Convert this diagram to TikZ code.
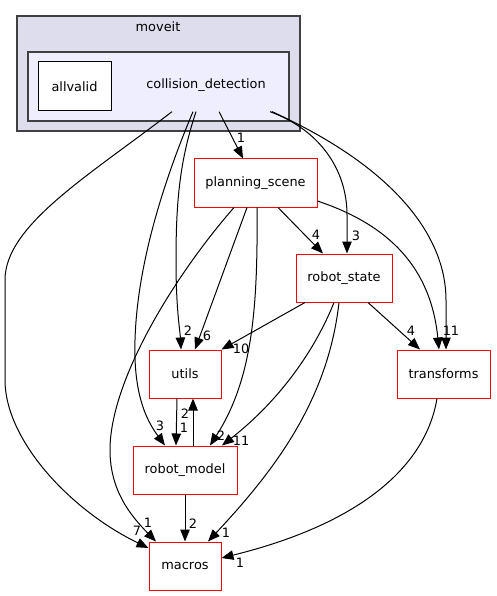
\documentclass[tikz,border=0pt]{standalone}
\usepackage{fontspec}
\setmainfont{DejaVu Sans}
\usetikzlibrary{arrows.meta}
\definecolor{clout}{HTML}{DDDDEE}
\definecolor{clin}{HTML}{EEEEFF}
\definecolor{clborder}{HTML}{404040}
\begin{document}
\begin{tikzpicture}[x=1pt,y=-1pt, font=\fontsize{12.9}{15}\selectfont,
  dirbox/.style={draw=red, fill=white, line width=1pt, minimum height=48pt, inner sep=0pt},
  edge/.style={-{Triangle[length=12pt,width=9.5pt]}, line width=1pt, black},
  lbl/.style={inner sep=0pt}]
\useasboundingbox (0,0) rectangle (496,596);

% clusters
\node[draw=clborder, fill=clout, line width=1.3pt, minimum width=283pt, minimum height=115pt, inner sep=0pt] (moveit) at (158.5,73.5) {};
\node[lbl] (moveitlbl) at (158,27) {moveit};
\node[draw=clborder, fill=clin, line width=1.3pt, minimum width=261pt, minimum height=69pt, inner sep=0pt] (cd) at (158.5,86.5) {};
\node[lbl] (cdlbl) at (206,85) {collision\_detection};
\node[draw=black, fill=white, line width=1pt, minimum width=73pt, minimum height=49pt, inner sep=0pt] (allvalid) at (74.5,86.5) {allvalid};

% nodes
\node[dirbox, minimum width=123pt] (ps) at (255.5,183) {planning\_scene};
\node[dirbox, minimum width=96pt] (rs) at (344,278) {robot\_state};
\node[dirbox, minimum width=72pt] (utils) at (185,374) {utils};
\node[dirbox, minimum width=93pt] (tf) at (443.5,374) {transforms};
\node[dirbox, minimum width=104pt] (rm) at (185,470) {robot\_model};
\node[dirbox, minimum width=72pt] (macros) at (185,566) {macros};

% edges from collision_detection
\draw[edge] ([xshift=13.5pt,yshift=10pt]cd.south) .. controls (90,175) and (5,225) .. (5,280) -- (5,380) .. controls (5,440) and (70,510) .. ([yshift=18pt]macros.west);
\draw[edge] ([xshift=37.5pt,yshift=10pt]cd.south) .. controls (180,160) and (176,200) .. (176,260) .. controls (176,310) and (180,330) .. ([xshift=-4pt]utils.north);
\draw[edge] ([xshift=34.5pt,yshift=10pt]cd.south) .. controls (160,190) and (137,270) .. (135,340) .. controls (133,400) and (150,425) .. ([xshift=-20pt]rm.north);
\draw[edge] ([xshift=60.5pt,yshift=10pt]cd.south) -- ([xshift=-12.5pt]ps.north);
\draw[edge] ([xshift=111.5pt,yshift=10pt]cd.south) .. controls (320,130) and (347,170) .. (347,215) -- ([xshift=3pt]rs.north);
\draw[edge] ([xshift=113.5pt,yshift=10pt]cd.south) .. controls (400,170) and (446,240) .. (446,300) -- ([xshift=2.5pt]tf.north);

% edges from planning_scene
\draw[edge] ([yshift=-18pt]ps.east) .. controls (380,222) and (430,260) .. ([xshift=-4.5pt]tf.north);
\draw[edge] ([xshift=-8.5pt]ps.south) -- ([xshift=10pt]utils.north);
\draw[edge] ([xshift=1.5pt]ps.south) .. controls (258,310) and (252,380) .. ([xshift=25pt]rm.north);
\draw[edge] ([xshift=-21.5pt]ps.south) .. controls (175,275) and (110,380) .. (110,450) .. controls (110,490) and (130,515) .. ([xshift=-29pt]macros.north);
\draw[edge] ([xshift=22.5pt]ps.south) -- ([xshift=-21pt]rs.north);

% edges from robot_state
\draw[edge] ([xshift=-39pt]rs.south) -- (utils.north east);
\draw[edge] ([xshift=24pt]rs.south) -- ([xshift=-23.5pt]tf.north);
\draw[edge] ([xshift=-10pt]rs.south) .. controls (315,350) and (280,400) .. ([xshift=37pt]rm.north);
\draw[edge] ([xshift=-5pt]rs.south) .. controls (328,400) and (275,470) .. ([xshift=23pt]macros.north);

% others
\draw[edge] ([xshift=-6.5pt]tf.south) .. controls (425,470) and (355,525) .. ([yshift=8pt]macros.east);
\draw[edge] ([xshift=-8pt]utils.south) -- ([xshift=-9pt]rm.north);
\draw[edge] ([xshift=8pt]rm.north) -- ([xshift=8pt]utils.south);
\draw[edge] (rm.south) -- (macros.north);

% labels
\node[lbl] (l1) at (137,531) {7};
\node[lbl] (l2) at (148,523) {1};
\node[lbl] (l3) at (193,524) {2};
\node[lbl] (l4) at (226,533) {1};
\node[lbl] (l5) at (240,563) {1};
\node[lbl] (l6) at (188,331) {2};
\node[lbl] (l7) at (207,336) {6};
\node[lbl] (l8) at (241,349) {10};
\node[lbl] (l9) at (184,428) {1};
\node[lbl] (l10) at (185,414) {2};
\node[lbl] (l11) at (160,426) {3};
\node[lbl] (l12) at (221,436) {2};
\node[lbl] (l13) at (241,441) {11};
\node[lbl] (l14) at (241,138) {1};
\node[lbl] (l15) at (316,235) {4};
\node[lbl] (l16) at (356,236) {3};
\node[lbl] (l17) at (411,331) {4};
\node[lbl] (l18) at (447,331) {1};
\node[lbl] (l19) at (455,331) {1};
\end{tikzpicture}
\end{document}
